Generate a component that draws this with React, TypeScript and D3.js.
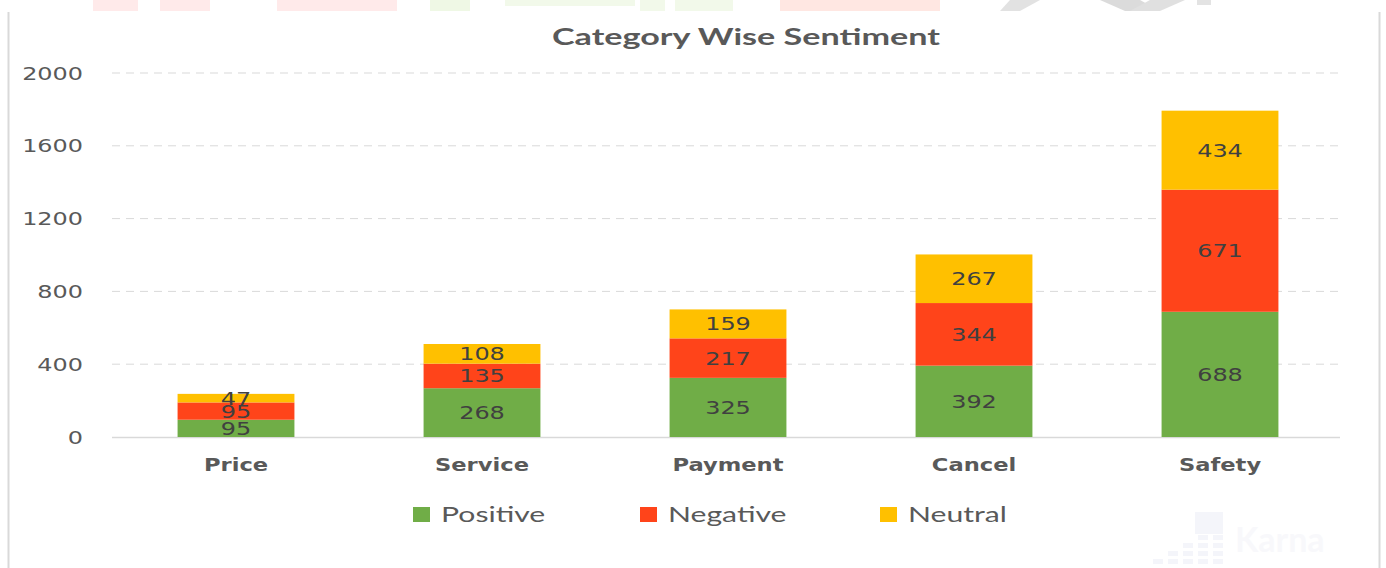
import React from "react";
import * as d3 from "d3";

const categories = ["Price", "Service", "Payment", "Cancel", "Safety"];
const seriesNames = ["Positive", "Negative", "Neutral"];
const positive = [95, 268, 325, 392, 688];
const negative = [95, 135, 217, 344, 671];
const neutral = [47, 108, 159, 267, 434];
const yTicks = [0, 400, 800, 1200, 1600, 2000];
const colors = ["#70AD47", "#FF441A", "#FFC000"];

const W = 1386;
const H = 568;
const SX = 1.33;

function SText(props: any) {
  const { x, y, sx = SX, children, ...rest } = props;
  return (
    <text transform={`translate(${x},${y}) scale(${sx},1)`} {...rest}>
      {children}
    </text>
  );
}

export default function App() {
  const x = d3
    .scaleBand<string>()
    .domain(categories)
    .range([113, 1343])
    .paddingInner(0.525)
    .paddingOuter(0.2625);
  const y = d3.scaleLinear().domain([0, 2000]).range([437, 73]);

  const rows = categories.map((c, i) => ({
    cat: c,
    Positive: positive[i],
    Negative: negative[i],
    Neutral: neutral[i],
  }));
  const stacked = d3.stack<any>().keys(seriesNames)(rows);

  const legendX = [413, 640, 880];

  return (
    <svg
      width={W}
      height={H}
      style={{ position: "absolute", left: 0, top: 0, background: "#fff" }}
    >
      <rect x={0} y={0} width={W} height={H} fill="#fff" />
      {/* faint watermark strip at top */}
      <g opacity={0.75}>
        <rect x={93} y={0} width={45} height={11} fill="#FFE3E3" />
        <rect x={160} y={0} width={50} height={11} fill="#FFE3E3" />
        <rect x={277} y={0} width={120} height={11} fill="#FFE3E3" />
        <rect x={430} y={0} width={40} height={11} fill="#EAF6DD" />
        <rect x={505} y={0} width={130} height={6} fill="#EEF7E4" />
        <rect x={640} y={0} width={25} height={11} fill="#EEF7E4" />
        <rect x={675} y={0} width={58} height={11} fill="#EEF7E4" />
        <rect x={780} y={0} width={160} height={11} fill="#FFE0D9" />
        <polygon points="1010,0 1040,0 1020,11 1000,11" fill="#D9D9D9" />
        <polygon points="1100,0 1140,0 1160,11 1125,11" fill="#D0D0D0" />
        <polygon points="1150,0 1185,0 1160,11 1130,11" fill="#D6D6D6" />
        <rect x={1197} y={0} width={14} height={5} fill="#DADADA" />
      </g>
      {/* chart frame */}
      <line x1={8.5} x2={8.5} y1={12} y2={H} stroke="#D9D9D9" strokeWidth={2} />
      <line x1={1379.5} x2={1379.5} y1={12} y2={H} stroke="#D9D9D9" strokeWidth={2} />

      {/* title */}
      <text
        x={746}
        y={45}
        textAnchor="middle"
        fontFamily="Lato, 'Open Sans', sans-serif"
        fontWeight="bold"
        fontSize={23}
        fill="#595959"
        textLength={388}
        lengthAdjust="spacingAndGlyphs"
      >
        Category Wise Sentiment
      </text>

      {/* gridlines */}
      {yTicks.map((t) =>
        t === 0 ? null : (
          <line
            key={t}
            x1={112}
            x2={1340}
            y1={y(t)}
            y2={y(t)}
            stroke="#D9D9D9"
            strokeWidth={1}
            strokeDasharray="8,6"
          />
        )
      )}
      <line x1={112} x2={1340} y1={y(0) + 0.5} y2={y(0) + 0.5} stroke="#D9D9D9" strokeWidth={1.5} />

      {/* y tick labels */}
      {yTicks.map((t) => (
        <SText
          key={t}
          x={83}
          y={y(t) + 6.5}
          textAnchor="end"
          fontFamily="'DejaVu Sans', sans-serif"
          fontSize={18}
          fill="#595959"
        >
          {t}
        </SText>
      ))}

      {/* bars */}
      {stacked.map((s, si) => (
        <g key={s.key}>
          {s.map((d, i) => (
            <rect
              key={i}
              x={x(categories[i])}
              width={x.bandwidth()}
              y={y(d[1])}
              height={y(d[0]) - y(d[1])}
              fill={colors[si]}
            />
          ))}
        </g>
      ))}

      {/* bar value labels */}
      {stacked.map((s) =>
        s.map((d, i) => (
          <SText
            key={s.key + i}
            x={(x(categories[i]) as number) + x.bandwidth() / 2}
            y={(y(d[0]) + y(d[1])) / 2 + 6.5}
            textAnchor="middle"
            fontFamily="'DejaVu Sans', sans-serif"
            fontSize={18}
            fill="#404040"
          >
            {d[1] - d[0]}
          </SText>
        ))
      )}

      {/* category labels */}
      {categories.map((c) => (
        <SText
          key={c}
          x={(x(c) as number) + x.bandwidth() / 2}
          y={471}
          textAnchor="middle"
          fontFamily="'DejaVu Sans', sans-serif"
          fontWeight="bold"
          fontSize={17}
          fill="#595959"
        >
          {c}
        </SText>
      ))}

      {/* legend */}
      {seriesNames.map((n, i) => (
        <g key={n}>
          <rect x={legendX[i]} y={507} width={17} height={15} fill={colors[i]} />
          <SText
            x={legendX[i] + 28}
            y={522}
            sx={1.37}
            fontFamily="Lato, sans-serif"
            fontSize={22}
            fill="#595959"
          >
            {n}
          </SText>
        </g>
      ))}

      {/* faint Karna watermark */}
      <g opacity={0.45}>
        {[0, 1, 2, 3, 4].map((c) =>
          [0, 1, 2, 3, 4].map((r) =>
            r >= 4 - c ? (
              <rect
                key={`${c}-${r}`}
                x={1153 + c * 15}
                y={527 + r * 8}
                width={10}
                height={5}
                fill="#E8EAF4"
              />
            ) : null
          )
        )}
        <rect x={1195} y={512} width={28} height={22} fill="#E8EAF4" />
        <text x={1235} y={552} fontFamily="Lato, sans-serif" fontWeight="bold" fontSize={34} fill="#F0F1F7">
          Karna
        </text>
      </g>
    </svg>
  );
}
